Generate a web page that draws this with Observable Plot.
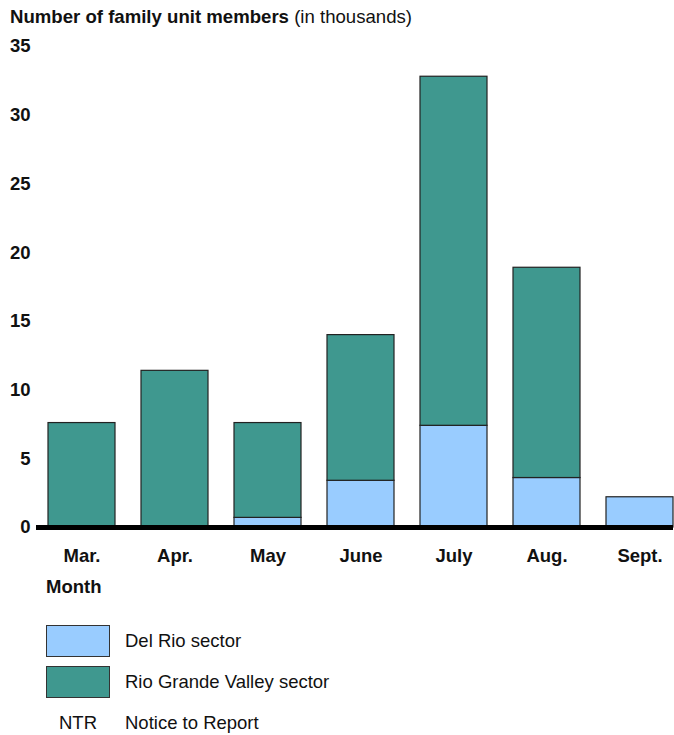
<!DOCTYPE html>
<html>
<head>
<meta charset="utf-8">
<script src="https://cdn.jsdelivr.net/npm/d3@7"></script>
<script src="https://cdn.jsdelivr.net/npm/@observablehq/plot@0.6"></script>
<style>
  body { margin: 0; background: #fff; font-family: "Liberation Sans", Arial, sans-serif; color: #111; }
  #title { height: 34px; line-height: 34px; padding-left: 10px; font-size: 18.6px; }
  #month { height: 26px; line-height: 26px; padding-left: 46px; font-size: 18.5px; font-weight: bold; }
  .leg { position: relative; height: 41px; font-size: 18.5px; }
  .sw { position: absolute; left: 46px; top: 0; width: 62px; height: 30px; border: 1px solid #333; }
  .lt { position: absolute; left: 125px; top: 0; line-height: 32px; }
  .nt { position: absolute; left: 59px; top: 0; line-height: 32px; }
</style>
</head>
<body>
<div id="title"><b>Number of family unit members</b> (in thousands)</div>
<div id="chart"></div>
<div id="month">Month</div>
<div id="legend" style="padding-top:25px"></div>
<script>
const months = ["Mar.", "Apr.", "May", "June", "July", "Aug.", "Sept."];
const delRio = [0, 0, 0.7, 3.4, 7.4, 3.6, 2.2];
const rioGrande = [7.6, 11.4, 6.9, 10.6, 25.4, 15.3, 0];
const seriesNames = ["Del Rio sector", "Rio Grande Valley sector"];
const seriesColors = ["#99ccff", "#3f988f"];
const yTicks = [0, 5, 10, 15, 20, 25, 30, 35];

const rows = [];
months.forEach((m, i) => {
  rows.push({month: m, series: seriesNames[0], value: delRio[i]});
  rows.push({month: m, series: seriesNames[1], value: rioGrande[i]});
});
const data = rows.filter(d => d.value > 0);

const chart = Plot.plot({
  width: 674,
  height: 540,
  marginTop: 12,
  marginBottom: 47,
  marginLeft: 36,
  marginRight: 1,
  style: {fontFamily: "'Liberation Sans', Arial, sans-serif", fontSize: "18.5px", fontWeight: "bold", color: "#111"},
  x: {domain: months, paddingInner: 0.28, paddingOuter: 0, insetLeft: 11, label: null},
  y: {domain: [0, 35], label: null},
  color: {domain: seriesNames, range: seriesColors},
  marks: [
    Plot.barY(data, Plot.stackY({
      x: "month", y: "value", fill: "series",
      order: seriesNames, stroke: "#222", strokeWidth: 1.2
    })),
    Plot.ruleY([0], {stroke: "#000", strokeWidth: 5}),
    Plot.axisY({ticks: yTicks, tickSize: 0, tickPadding: 6, label: null, fontWeight: "bold"}),
    Plot.axisX({tickSize: 0, tickPadding: 21, label: null, fontWeight: "bold"})
  ]
});
document.getElementById("chart").appendChild(chart);

const legend = document.getElementById("legend");
seriesNames.forEach((name, i) => {
  const row = document.createElement("div");
  row.className = "leg";
  row.innerHTML = `<div class="sw" style="background:${seriesColors[i]}"></div><div class="lt">${name}</div>`;
  legend.appendChild(row);
});
const ntr = document.createElement("div");
ntr.className = "leg";
ntr.innerHTML = `<div class="nt">NTR</div><div class="lt">Notice to Report</div>`;
legend.appendChild(ntr);
</script>
</body>
</html>
